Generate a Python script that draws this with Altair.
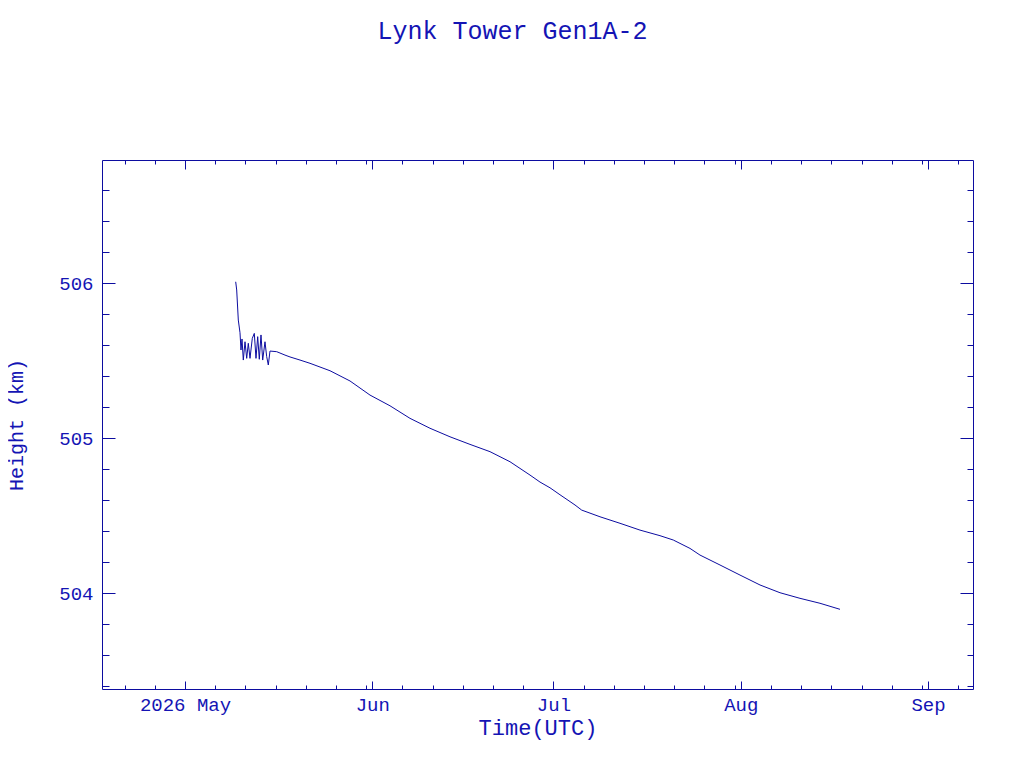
import altair as alt
import pandas as pd

# ---- data ----
times = [
    "2026-05-09T09:26", "2026-05-09T13:25", "2026-05-09T19:46", "2026-05-10T02:31",
    "2026-05-10T06:29", "2026-05-10T10:28", "2026-05-10T15:37", "2026-05-10T22:23",
    "2026-05-11T05:08", "2026-05-11T11:30", "2026-05-11T18:15", "2026-05-12T03:23",
    "2026-05-12T11:20", "2026-05-12T18:05", "2026-05-13T00:50", "2026-05-13T07:12",
    "2026-05-13T13:57", "2026-05-13T20:43", "2026-05-14T05:50", "2026-05-14T12:36",
    "2026-05-14T18:58", "2026-05-15T01:42", "2026-05-16T04:19", "2026-05-17T13:18",
    "2026-05-18T09:10", "2026-05-20T00:55", "2026-05-21T16:38", "2026-05-25T00:06",
    "2026-05-28T07:34", "2026-05-31T15:01", "2026-06-03T22:28", "2026-06-07T05:56",
    "2026-06-10T13:24", "2026-06-13T20:51", "2026-06-17T04:19", "2026-06-20T11:47",
    "2026-06-23T19:15", "2026-06-27T02:43", "2026-06-28T18:26", "2026-06-30T10:10",
    "2026-07-02T01:54", "2026-07-04T13:30", "2026-07-05T16:06", "2026-07-08T16:49",
    "2026-07-12T00:16", "2026-07-15T07:44", "2026-07-18T15:12", "2026-07-20T20:02",
    "2026-07-23T14:22", "2026-07-25T06:07", "2026-07-28T13:35", "2026-07-31T21:03",
    "2026-08-04T04:31", "2026-08-07T11:57", "2026-08-10T19:25", "2026-08-14T02:53",
    "2026-08-17T10:21",
]
heights = [
    506.008, 505.955, 505.761, 505.679,
    505.568, 505.639, 505.503, 505.621,
    505.514, 505.611, 505.514, 505.643,
    505.675, 505.514, 505.654, 505.508,
    505.665, 505.503, 505.621, 505.525,
    505.471, 505.561, 505.557, 505.535,
    505.523, 505.503, 505.482, 505.434,
    505.368, 505.277, 505.208, 505.127,
    505.063, 505.008, 504.959, 504.912,
    504.847, 504.761, 504.716, 504.679,
    504.634, 504.568, 504.535, 504.492,
    504.450, 504.406, 504.370, 504.342,
    504.288, 504.245, 504.181, 504.116,
    504.052, 504.002, 503.966, 503.934,
    503.895,
]

month_ticks = ["2026-05-01", "2026-06-01", "2026-07-01", "2026-08-01", "2026-09-01"]
minor_days = [
    "2026-04-21", "2026-04-26",
    "2026-05-06", "2026-05-11", "2026-05-16", "2026-05-21", "2026-05-26", "2026-05-31",
    "2026-06-06", "2026-06-11", "2026-06-16", "2026-06-21", "2026-06-26",
    "2026-07-06", "2026-07-11", "2026-07-16", "2026-07-21", "2026-07-26", "2026-07-31",
    "2026-08-06", "2026-08-11", "2026-08-16", "2026-08-21", "2026-08-26", "2026-08-31",
    "2026-09-06",
]
y_major = [504, 505, 506]
y_minor = [503.4, 503.6, 503.8, 504.2, 504.4, 504.6, 504.8,
           505.2, 505.4, 505.6, 505.8, 506.2, 506.4, 506.6]

x_domain = ["2026-04-17T06:14", "2026-09-08T10:47"]
y_domain = [503.381, 506.7935]

TEXT = "#1414b4"
LINE = "#0c0ca0"
FONT = "Liberation Mono"


def dt(s):
    p = pd.Timestamp(s)
    return alt.DateTime(year=p.year, month=p.month, date=p.day,
                        hours=p.hour, minutes=p.minute)


df = pd.DataFrame({"time": times, "height": heights})

xscale = alt.Scale(domain=[dt(s) for s in x_domain])
yscale = alt.Scale(domain=y_domain, zero=False, nice=False)


def tick_axis(orient, values, size):
    return alt.Axis(orient=orient, values=values, labels=False, domain=False,
                    grid=False, ticks=True, tickSize=size, offset=-size,
                    tickColor=LINE, tickWidth=1, title=None)


base = alt.Chart(df)

main = base.mark_line(color=LINE, strokeWidth=1).encode(
    x=alt.X("time:T", scale=xscale,
            axis=alt.Axis(orient="bottom", values=[dt(s) for s in month_ticks],
                          ticks=False, domain=False, grid=False,
                          labelExpr="month(datum.value) == 4 ? '2026 May' : timeFormat(datum.value, '%b')",
                          labelFont=FONT, labelFontSize=19, labelColor=TEXT,
                          labelPadding=6, labelFlush=False, labelOverlap=False,
                          title="Time(UTC)", titleFont=FONT, titleFontSize=22,
                          titleFontWeight="normal", titleColor=TEXT, titlePadding=3)),
    y=alt.Y("height:Q", scale=yscale,
            axis=alt.Axis(orient="left", values=y_major, ticks=False, domain=False,
                          grid=False, format="d",
                          labelFont=FONT, labelFontSize=19, labelColor=TEXT,
                          labelPadding=9, labelFlush=False,
                          title="Height (km)", titleFont=FONT, titleFontSize=20,
                          titleFontWeight="normal", titleColor=TEXT, titlePadding=32)),
)


def ghost(xo, xv, xs, yo, yv, ys):
    return base.mark_line(strokeOpacity=0).encode(
        x=alt.X("time:T", scale=xscale, axis=tick_axis(xo, xv, xs)),
        y=alt.Y("height:Q", scale=yscale, axis=tick_axis(yo, yv, ys)),
    )


months = [dt(s) for s in month_ticks]
minors = [dt(s) for s in minor_days]

layers = [
    main,
    ghost("bottom", months, 8, "left", y_major, 13),
    ghost("bottom", minors, 4, "left", y_minor, 7),
    ghost("top", months, 9, "right", y_major, 13),
    ghost("top", minors, 4, "right", y_minor, 6),
]

chart = alt.layer(*layers).resolve_axis(x="independent", y="independent").properties(
    width=871, height=529,
    autosize=alt.AutoSizeParams(type="none"),
    padding={"left": 94, "top": 152, "right": 40, "bottom": 60},
    title=alt.TitleParams("Lynk Tower Gen1A-2", font=FONT, fontSize=25,
                          fontWeight="normal", color=TEXT, anchor="middle",
                          dx=-25, baseline="alphabetic", offset=96),
).configure_view(stroke=LINE, strokeWidth=1)

chart.save("out.html", embed_options={"renderer": "svg", "actions": False})
